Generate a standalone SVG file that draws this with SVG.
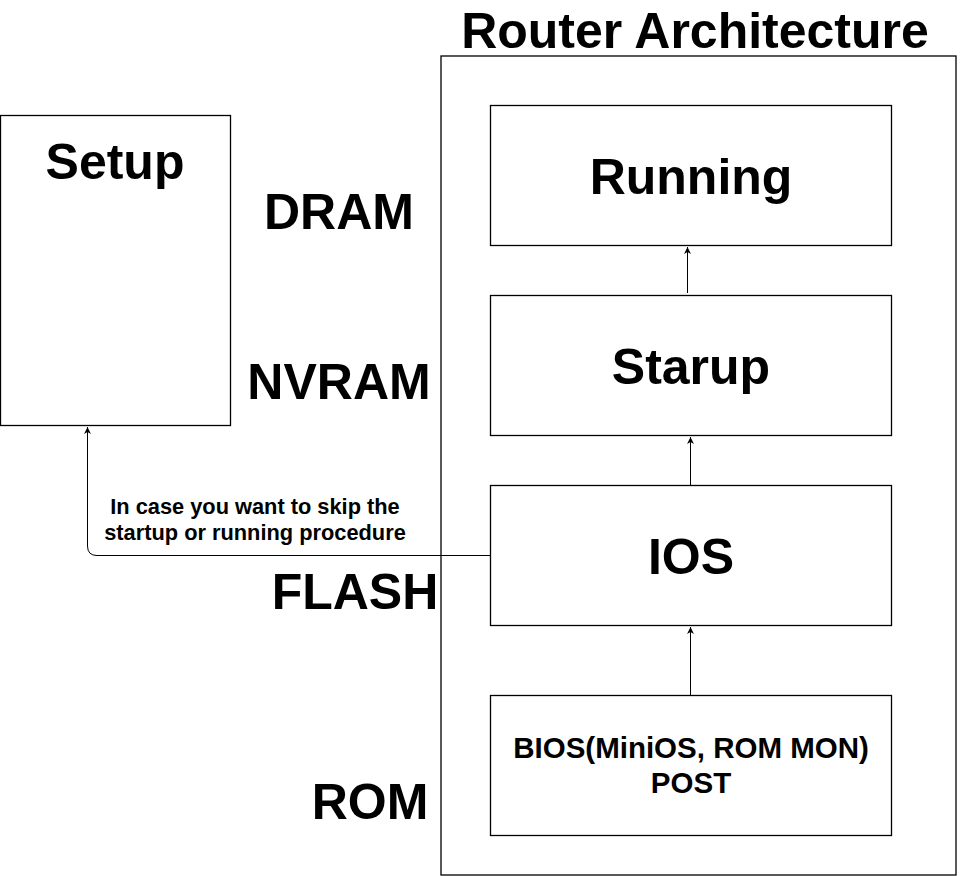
<svg xmlns="http://www.w3.org/2000/svg" width="972" height="876" viewBox="0 0 972 876">
<defs>
<style>
.box{fill:#fff;stroke:#000;stroke-width:1.3}
.t{font-family:"Liberation Sans",Arial,sans-serif;font-weight:bold;fill:#000}
.big{font-size:50px}
.lbl{font-size:21.8px}
.mid{font-size:29.5px}
.edge{fill:none;stroke:#000;stroke-width:1}
</style>
<marker id="ah" markerWidth="8" markerHeight="8" refX="7" refY="4" orient="auto" markerUnits="userSpaceOnUse">
<path d="M0,0.5 L7,4 L0,7.5 L2,4 Z" fill="#000"/>
</marker>
</defs>
<rect width="972" height="876" fill="#fff"/>
<g id="router">
<rect class="box" x="441" y="56" width="515" height="819"/>
<text class="t big" x="695" y="48" text-anchor="middle">Router Architecture</text>
</g>
<g id="setup">
<rect class="box" x="0.5" y="115.5" width="230" height="310"/>
<text class="t big" x="115" y="179" text-anchor="middle">Setup</text>
</g>
<g id="labels">
<text class="t big" x="339" y="229" text-anchor="middle">DRAM</text>
<text class="t big" x="339" y="399" text-anchor="middle">NVRAM</text>
<text class="t big" x="355" y="609" text-anchor="middle">FLASH</text>
<text class="t big" x="370" y="819" text-anchor="middle">ROM</text>
</g>
<g id="running">
<rect class="box" x="490.5" y="105.5" width="401" height="140"/>
<text class="t big" x="691" y="194" text-anchor="middle">Running</text>
</g>
<g id="starup">
<rect class="box" x="490.5" y="295.5" width="401" height="140"/>
<text class="t big" x="691" y="384" text-anchor="middle">Starup</text>
</g>
<g id="ios">
<rect class="box" x="490.5" y="485.5" width="401" height="140"/>
<text class="t big" x="691" y="574" text-anchor="middle">IOS</text>
</g>
<g id="bios">
<rect class="box" x="490.5" y="695.5" width="401" height="140"/>
<text class="t mid" x="691" y="758" text-anchor="middle">BIOS(MiniOS, ROM MON)</text>
<text class="t mid" x="691" y="793" text-anchor="middle">POST</text>
</g>
<g id="connectors">
<path class="edge" d="M687.5,293 L687.5,247" marker-end="url(#ah)"/>
<path class="edge" d="M690.5,485 L690.5,437" marker-end="url(#ah)"/>
<path class="edge" d="M690.5,695 L690.5,627" marker-end="url(#ah)"/>
<path class="edge" d="M490,555.5 L97,555.5 Q87.5,555.5 87.5,546 L87.5,427" marker-end="url(#ah)"/>
<text class="t lbl" x="255" y="514" text-anchor="middle">In case you want to skip the</text>
<text class="t lbl" x="255" y="540" text-anchor="middle">startup or running procedure</text>
</g>
</svg>
